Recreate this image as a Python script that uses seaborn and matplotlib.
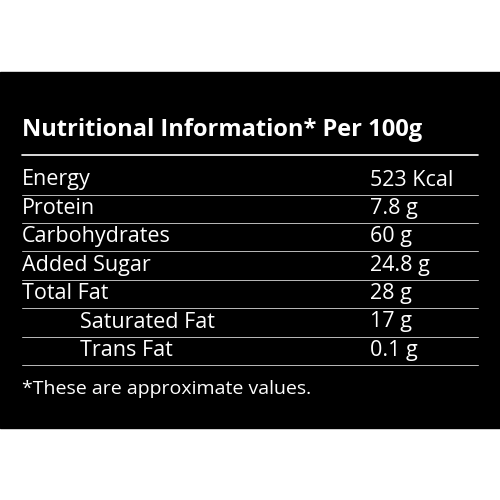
import matplotlib
matplotlib.use("Agg")
import matplotlib.pyplot as plt
import seaborn as sns

sns.set_theme(style="white")
plt.rcParams['font.family'] = ['Open Sans', 'DejaVu Sans']

title = "Nutritional Information* Per 100g"
nutrients = ["Energy", "Protein", "Carbohydrates", "Added Sugar", "Total Fat", "Saturated Fat", "Trans Fat"]
amounts = ["523 Kcal", "7.8 g", "60 g", "24.8 g", "28 g", "17 g", "0.1 g"]
indented = [False, False, False, False, False, True, True]
footnote = "*These are approximate values."

fig = plt.figure(figsize=(5, 5), dpi=100)
ax = fig.add_axes([0, 0, 1, 1])
ax.set_xlim(0, 500)
ax.set_ylim(500, 0)
ax.axis("off")
fig.patch.set_facecolor("white")
ax.add_patch(plt.Rectangle((0, 72), 500, 356, color="black"))

ax.text(22, 130, title, color="white", fontsize=17, fontweight="bold", va="center")
ax.plot([22, 478], [155, 155], color="white", lw=1.2)

row_h = 28.4
y0 = 180
for i, (n, a, ind) in enumerate(zip(nutrients, amounts, indented)):
    y = y0 + i * row_h
    ax.text(80 if ind else 22, y, n, color="white", fontsize=15.5, va="center")
    ax.text(370, y, a, color="white", fontsize=15.5, va="center")
    ax.plot([22, 478], [y + 14.5, y + 14.5], color="#bbbbbb", lw=0.7)

ax.text(22, 389, footnote, color="white", fontsize=14, va="center")
fig.savefig("out.png", dpi=100)
